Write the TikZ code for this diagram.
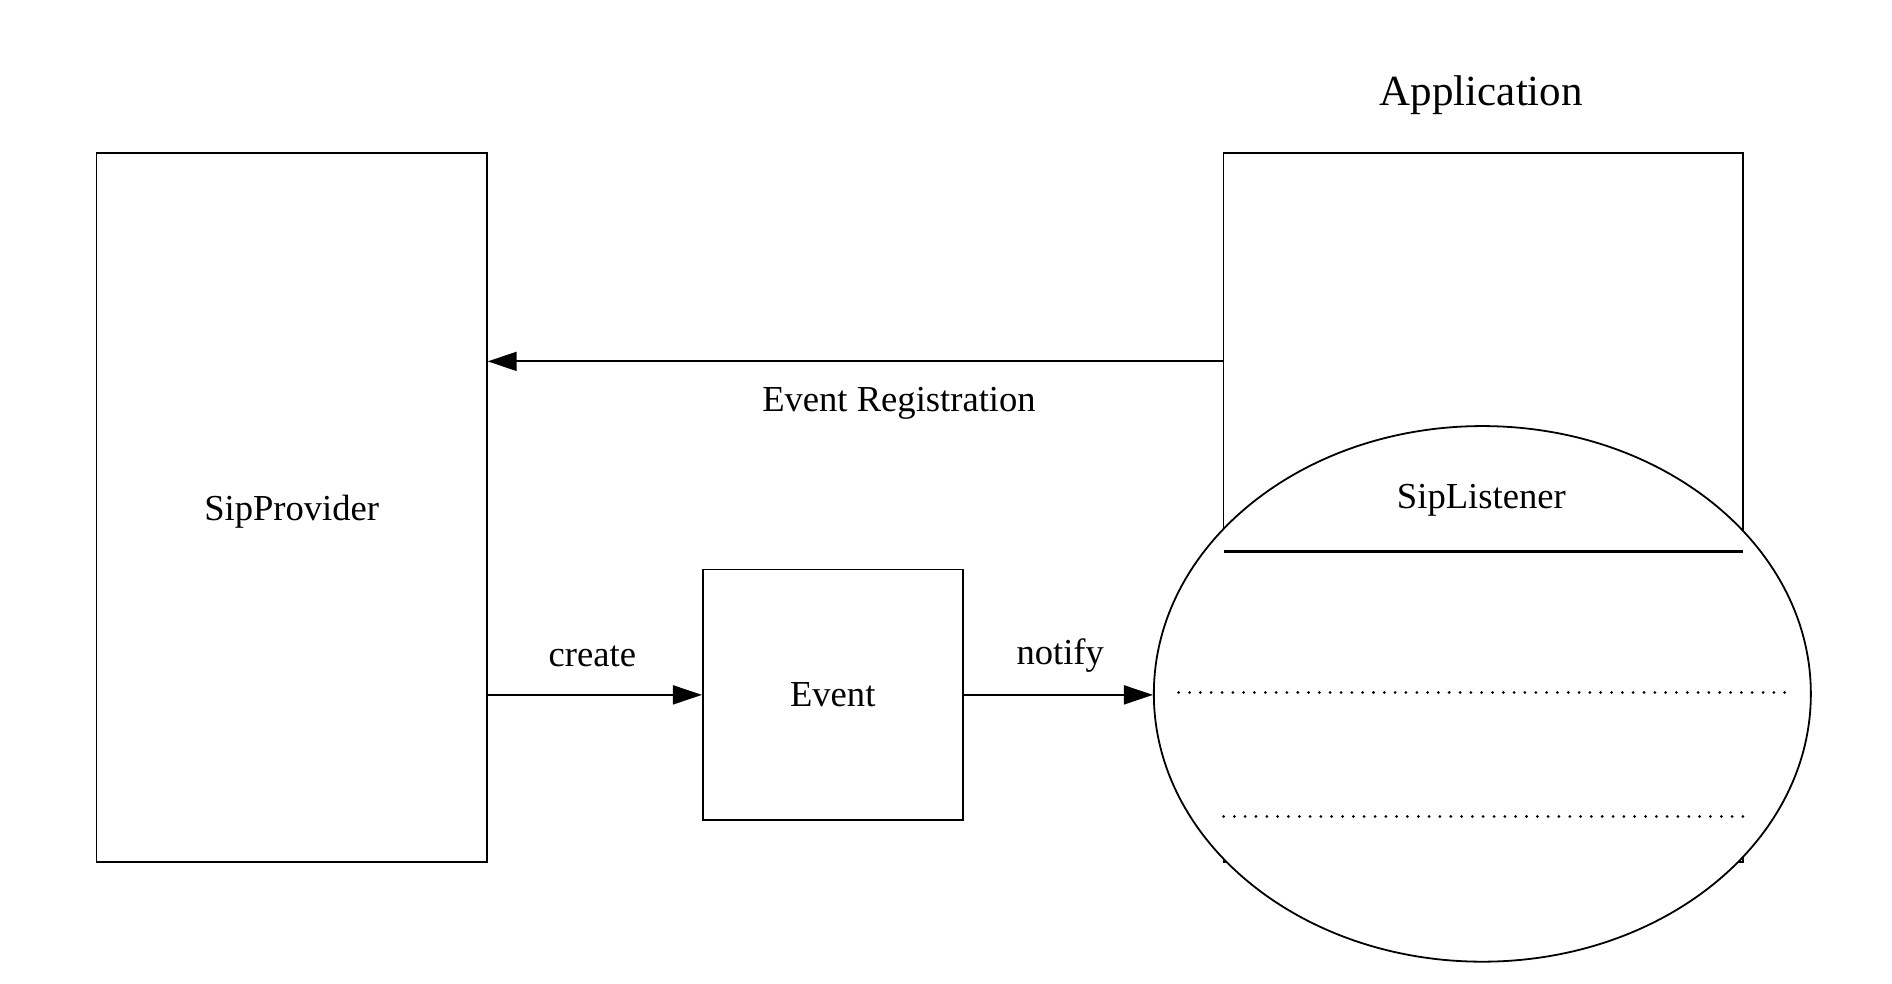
\documentclass[tikz,border=0pt]{standalone}
\usepackage{fontspec}
\setmainfont{Liberation Serif}
\usetikzlibrary{arrows.meta,shapes.geometric}
\begin{document}
\begin{tikzpicture}[x=0.49775pt,y=-0.49775pt,
  every node/.style={font=\fontsize{18.3pt}{22pt}\selectfont},
  boxnode/.style={draw,line width=0.9pt,rectangle,inner sep=0pt},
  arr/.style={line width=0.9pt,-{Triangle[length=14.5pt,width=9.5pt]}},
  dotline/.style={line width=1.5pt,line cap=round,dash pattern=on 0.01pt off 5.4pt}]
\useasboundingbox (0,0) rectangle (1900.5,988.4);
\node[boxnode,minimum width=195.1pt,minimum height=354.4pt] (prov) at (293,510) {};
\node at (293,514) (provlabel) {SipProvider};
\node[boxnode,minimum width=259.8pt,minimum height=354.4pt] (app) at (1490,510) {};
\node[font=\fontsize{21.5pt}{26pt}\selectfont] (applabel) at (1488,96) {Application};
\node[draw,ellipse,fill=white,line width=0.9pt,inner sep=0pt,minimum width=328.5pt,minimum height=267.8pt] (ell) at (1489,697) {};
\node (listener) at (1488,503) {SipListener};
\coordinate (solL) at (1229,554);
\coordinate (solR) at (1751,554);
\draw[line width=1.1pt] (solL) -- (solR);
\coordinate (d1L) at (1184,696);
\coordinate (d1R) at (1793,696);
\draw[dotline] (d1L) -- (d1R);
\coordinate (d2L) at (1229,820);
\coordinate (d2R) at (1751,820);
\draw[dotline] (d2L) -- (d2R);
\node[boxnode,minimum width=129.9pt,minimum height=125.4pt,text depth=0pt] (ev) at (836.5,698) {Event};
\coordinate (regy) at (0,363);
\draw[arr] (app.west |- regy) -- (prov.east |- regy);
\node (reglabel) at (903,405) {Event Registration};
\draw[arr] (prov.east |- ev.west) -- (ev.west);
\node (createlabel) at (595,659) {create};
\draw[arr] (ev.east) -- (ev.east -| ell.west);
\node (notifylabel) at (1065,659) {notify};
\end{tikzpicture}
\end{document}
